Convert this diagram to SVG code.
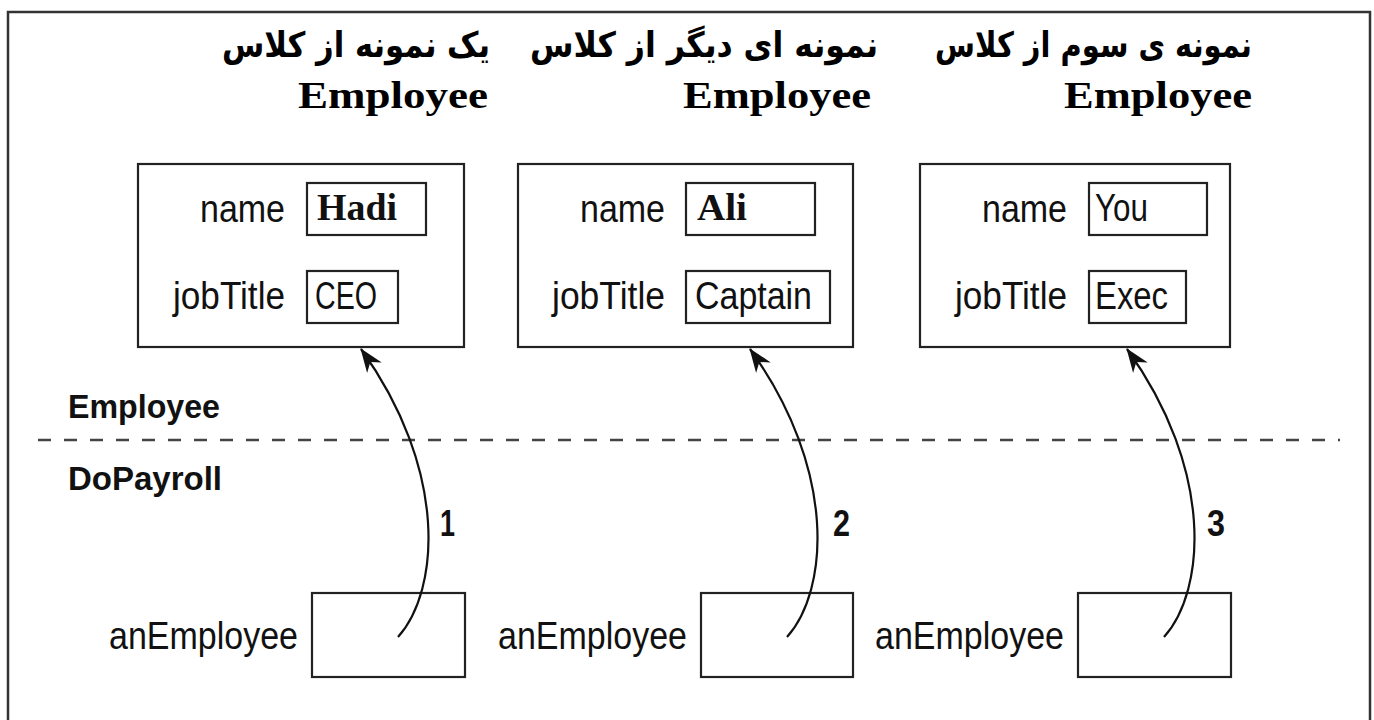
<svg xmlns="http://www.w3.org/2000/svg" width="1374" height="720" viewBox="0 0 1374 720">
<style>
.frame{fill:none;stroke:#333;stroke-width:2.5}
.box{fill:#fff;stroke:#222;stroke-width:2.2}
.lbl{font-family:"Liberation Sans Narrow","Liberation Sans",Arial,sans-serif;font-size:38px;fill:#111}
.val{font-family:"Liberation Sans Narrow","Liberation Sans",Arial,sans-serif;font-size:38px;fill:#111}
.valb{font-family:"Liberation Serif","Times New Roman",serif;font-size:38px;font-weight:bold;fill:#111}
.bold{font-family:"Liberation Sans Narrow","Liberation Sans",Arial,sans-serif;font-size:34px;font-weight:bold;fill:#111}
.num{font-family:"Liberation Sans Narrow","Liberation Sans",Arial,sans-serif;font-size:37px;font-weight:bold;fill:#111}
.fa{font-family:"DejaVu Sans","Noto Sans",sans-serif;font-size:35px;font-weight:bold;fill:#000}
.hdr{font-family:"Liberation Serif","Times New Roman",serif;font-size:38px;font-weight:bold;fill:#000}
.conn{fill:none;stroke:#111;stroke-width:2.2}
.sep{fill:none;stroke:#444;stroke-width:2.5;stroke-dasharray:13 13}
</style>
<defs>
<marker id="arrow" markerUnits="userSpaceOnUse" markerWidth="24" markerHeight="18" viewBox="0 0 24 18" refX="23" refY="9" orient="auto">
<path d="M0,0 L24,9 L0,18 L7,9 z" fill="#111"/>
</marker>
</defs>
<rect width="1374" height="720" fill="#fff"/>
<rect class="frame" x="8" y="12" width="1362" height="730"/>

<g id="header1">
<text class="fa" x="490" y="57" text-anchor="end" textLength="268" lengthAdjust="spacingAndGlyphs">یک نمونه از کلاس</text>
<text class="hdr" x="298" y="108" textLength="190" lengthAdjust="spacingAndGlyphs">Employee</text>
</g>
<g id="header2">
<text class="fa" x="878" y="57" text-anchor="end" textLength="348" lengthAdjust="spacingAndGlyphs">نمونه ای دیگر از کلاس</text>
<text class="hdr" x="683" y="108" textLength="188" lengthAdjust="spacingAndGlyphs">Employee</text>
</g>
<g id="header3">
<text class="fa" x="1252" y="57" text-anchor="end" textLength="317" lengthAdjust="spacingAndGlyphs">نمونه ی سوم از کلاس</text>
<text class="hdr" x="1064" y="108" textLength="188" lengthAdjust="spacingAndGlyphs">Employee</text>
</g>

<g id="instance1">
<rect class="box" x="138" y="164" width="326" height="183"/>
<text class="lbl" x="200" y="222" textLength="85" lengthAdjust="spacingAndGlyphs">name</text>
<rect class="box" x="307" y="183" width="119" height="52"/>
<text class="valb" x="317" y="220" textLength="80" lengthAdjust="spacingAndGlyphs">Hadi</text>
<text class="lbl" x="173" y="309" textLength="112" lengthAdjust="spacingAndGlyphs">jobTitle</text>
<rect class="box" x="307" y="271" width="91" height="52"/>
<text class="val" x="315" y="309" textLength="62" lengthAdjust="spacingAndGlyphs">CEO</text>
</g>

<g id="instance2">
<rect class="box" x="518" y="164" width="335" height="183"/>
<text class="lbl" x="580" y="222" textLength="85" lengthAdjust="spacingAndGlyphs">name</text>
<rect class="box" x="686" y="183" width="129" height="52"/>
<text class="valb" x="697" y="220" textLength="50" lengthAdjust="spacingAndGlyphs">Ali</text>
<text class="lbl" x="552" y="309" textLength="113" lengthAdjust="spacingAndGlyphs">jobTitle</text>
<rect class="box" x="686" y="271" width="144" height="52"/>
<text class="val" x="695" y="309" textLength="117" lengthAdjust="spacingAndGlyphs">Captain</text>
</g>

<g id="instance3">
<rect class="box" x="920" y="164" width="310" height="183"/>
<text class="lbl" x="982" y="222" textLength="85" lengthAdjust="spacingAndGlyphs">name</text>
<rect class="box" x="1089" y="183" width="118" height="52"/>
<text class="val" x="1095" y="221" textLength="53" lengthAdjust="spacingAndGlyphs">You</text>
<text class="lbl" x="955" y="309" textLength="112" lengthAdjust="spacingAndGlyphs">jobTitle</text>
<rect class="box" x="1089" y="271" width="97" height="52"/>
<text class="val" x="1095" y="309" textLength="73" lengthAdjust="spacingAndGlyphs">Exec</text>
</g>

<g id="scopes">
<text class="bold" x="68" y="418" textLength="152" lengthAdjust="spacingAndGlyphs">Employee</text>
<line class="sep" x1="38" y1="440" x2="1340" y2="440"/>
<text class="bold" x="68" y="490" textLength="154" lengthAdjust="spacingAndGlyphs">DoPayroll</text>
</g>

<g id="ref1">
<text class="lbl" x="109" y="649" textLength="189" lengthAdjust="spacingAndGlyphs">anEmployee</text>
<rect class="box" x="312" y="593" width="153" height="84"/>
</g>
<g id="ref2">
<text class="lbl" x="498" y="649" textLength="189" lengthAdjust="spacingAndGlyphs">anEmployee</text>
<rect class="box" x="701" y="593" width="152" height="84"/>
</g>
<g id="ref3">
<text class="lbl" x="875" y="649" textLength="189" lengthAdjust="spacingAndGlyphs">anEmployee</text>
<rect class="box" x="1078" y="593" width="153" height="84"/>
</g>

<g id="connectors">
<path class="conn" d="M398,637 C440,590 448,470 361,349" marker-end="url(#arrow)"/>
<path class="conn" d="M787,637 C829,590 837,470 750,349" marker-end="url(#arrow)"/>
<path class="conn" d="M1164,637 C1206,590 1214,470 1127,349" marker-end="url(#arrow)"/>
<text class="num" x="440" y="536" textLength="15" lengthAdjust="spacingAndGlyphs">1</text>
<text class="num" x="833" y="536" textLength="17" lengthAdjust="spacingAndGlyphs">2</text>
<text class="num" x="1207" y="536" textLength="18" lengthAdjust="spacingAndGlyphs">3</text>
</g>
</svg>
